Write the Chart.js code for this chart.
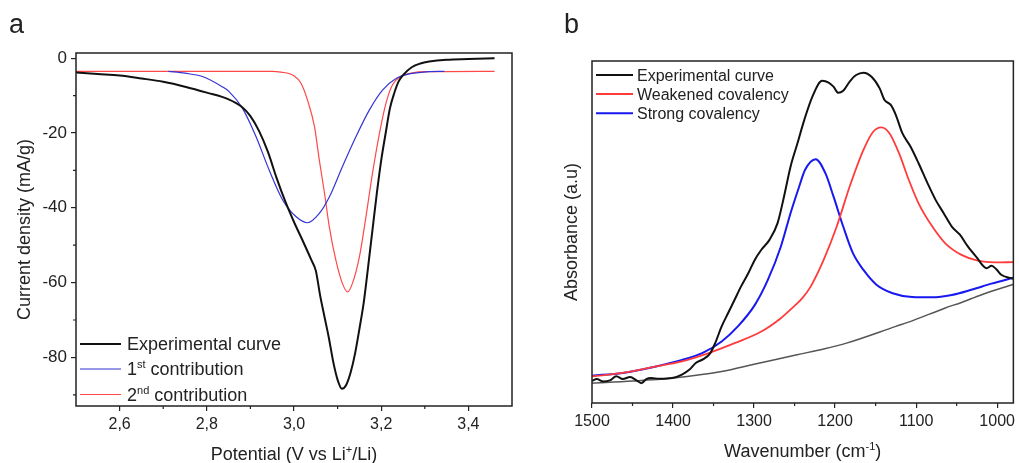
<!DOCTYPE html>
<html>
<head>
<meta charset="utf-8">
<script src="https://cdn.jsdelivr.net/npm/chart.js@4.4.1/dist/chart.umd.min.js"></script>
<style>
  html, body { margin: 0; padding: 0; background: #fff; }
  #wrap { position: relative; width: 1019px; height: 463px; overflow: hidden; }
  canvas { position: absolute; top: 0; }
  #ca { left: 0; }
  #cb { left: 540px; }
</style>
</head>
<body>
<div id="wrap">
  <canvas id="ca" width="540" height="463"></canvas>
  <canvas id="cb" width="479" height="463"></canvas>
</div>
<script>
// ---- panel a : potential vs current density ----
const expA_x = [2.50, 2.55, 2.60, 2.65, 2.70, 2.75, 2.80, 2.85, 2.88, 2.90, 2.92, 2.94, 2.96, 2.98, 3.00, 3.02, 3.04, 3.05, 3.06, 3.07, 3.08, 3.09, 3.10, 3.11, 3.12, 3.13, 3.14, 3.15, 3.16, 3.17, 3.18, 3.19, 3.20, 3.21, 3.22, 3.23, 3.24, 3.25, 3.27, 3.29, 3.31, 3.35, 3.40, 3.46];
const expA_y = [-3.8, -4.2, -4.6, -5.4, -6.3, -7.6, -9.2, -11.0, -13.0, -15.5, -19.5, -25.0, -32.0, -38.3, -43.8, -48.8, -54.0, -56.8, -63.5, -69.2, -74.8, -81.2, -86.0, -88.4, -87.3, -84.0, -79.0, -72.4, -65.3, -55.8, -45.9, -36.1, -27.3, -20.2, -13.4, -9.3, -6.2, -4.5, -2.4, -1.4, -0.9, -0.4, -0.2, 0.0];

const c1A_x = [2.712, 2.75, 2.79, 2.835, 2.85, 2.882, 2.913, 2.943, 2.974, 3.005, 3.031, 3.058, 3.081, 3.111, 3.142, 3.173, 3.203, 3.234, 3.264, 3.31, 3.345];
const c1A_y = [-3.5, -4.0, -4.9, -7.6, -8.8, -13.4, -21.0, -29.9, -37.9, -42.4, -44.0, -41.5, -37.1, -29.0, -21.0, -13.8, -8.5, -5.4, -4.2, -3.6, -3.5];

const c2A_x = [2.50, 2.95, 2.97, 3.00, 3.016, 3.031, 3.047, 3.058, 3.070, 3.081, 3.096, 3.111, 3.123, 3.134, 3.150, 3.165, 3.180, 3.196, 3.211, 3.226, 3.245, 3.272, 3.31, 3.46];
const c2A_y = [-3.5, -3.5, -3.7, -4.7, -6.7, -11.2, -18.3, -27.2, -36.1, -45.1, -54.0, -60.2, -62.5, -60.2, -53.1, -42.4, -30.8, -20.1, -12.0, -7.1, -4.9, -3.9, -3.6, -3.5];

const xTicksA = [2.6, 2.8, 3.0, 3.2, 3.4];
const xTickLabelsA = ['2,6', '2,8', '3,0', '3,2', '3,4'];
const xMinorA = [2.7, 2.9, 3.1, 3.3];
const yTicksA = [0, -20, -40, -60, -80];
const yMinorA = [-10, -30, -50, -70, -90];

// ---- panel b : FTIR absorbance ----
const expB_x = [1500, 1494, 1486, 1478, 1470, 1462, 1453, 1445, 1439, 1433, 1427, 1417, 1401, 1389, 1380, 1372, 1362, 1354, 1348, 1340, 1332, 1324, 1316, 1307, 1299, 1291, 1281, 1271, 1263, 1255, 1247, 1238, 1228, 1216, 1208, 1202, 1196, 1190, 1182, 1174, 1165, 1155, 1145, 1139, 1131, 1125, 1117, 1107, 1097, 1086, 1076, 1066, 1056, 1046, 1036, 1026, 1013, 1007, 1001, 995, 983, 980];
const expB_y = [6.5, 7.0, 6.3, 6.6, 7.8, 7.0, 7.6, 6.6, 5.8, 7.0, 7.3, 7.1, 7.3, 8.3, 9.7, 11.7, 12.9, 14.6, 17.5, 22.4, 26.3, 30.2, 34.1, 38.0, 41.9, 44.8, 47.7, 52.6, 60.4, 69.1, 75.5, 82.8, 89.6, 94.2, 93.7, 92.5, 90.7, 91.3, 94.0, 95.9, 96.6, 95.4, 92.0, 88.6, 87.1, 84.2, 78.9, 75.0, 70.1, 64.3, 59.4, 55.5, 51.6, 49.2, 45.7, 42.8, 39.4, 40.1, 39.1, 37.5, 36.5, 36.3];

const weakB_x = [1500, 1462, 1421, 1389, 1356, 1324, 1291, 1267, 1251, 1241, 1230, 1214, 1198, 1182, 1165, 1153, 1143, 1133, 1121, 1109, 1097, 1080, 1064, 1044, 1024, 1003, 980];
const weakB_y = [7.8, 8.8, 10.7, 12.2, 14.6, 17.5, 20.9, 24.8, 28.2, 30.5, 34.1, 41.9, 51.6, 63.3, 74.0, 79.3, 80.6, 78.9, 73.0, 65.2, 58.4, 51.6, 46.7, 43.3, 41.6, 41.1, 41.2];

const strongB_x = [1500, 1462, 1421, 1389, 1364, 1340, 1320, 1299, 1283, 1267, 1255, 1245, 1237, 1224, 1212, 1202, 1190, 1178, 1165, 1149, 1129, 1105, 1080, 1056, 1032, 1007, 980];
const strongB_y = [8.0, 8.8, 10.7, 12.6, 14.6, 18.0, 22.4, 28.7, 36.0, 45.7, 55.5, 62.8, 68.2, 71.3, 67.2, 60.4, 51.6, 43.8, 38.9, 34.6, 32.1, 31.0, 30.9, 31.6, 33.1, 34.9, 36.6];

const baseB_x = [1500, 1450, 1400, 1340, 1300, 1247, 1214, 1186, 1125, 1105, 1064, 1044, 1020, 980];
const baseB_y = [5.8, 6.4, 7.3, 9.2, 11.3, 14.1, 15.8, 17.5, 22.4, 24.0, 27.8, 29.4, 31.6, 34.7];

const xTicksB = [1500, 1400, 1300, 1200, 1100, 1000];
const xMinorB = [1450, 1350, 1250, 1150, 1050];

const FONT = '"Liberation Sans", Arial, Helvetica, sans-serif';
Chart.defaults.font.family = FONT;
Chart.defaults.color = '#222';

function pts(xs, ys) {
  return xs.map((x, i) => ({ x: x, y: ys[i] }));
}

// text with superscript pieces: parts = [[text, isSup], ...]
function drawRich(ctx, parts, x, y, size, align) {
  const supSize = Math.round(size * 0.62);
  let total = 0;
  parts.forEach(([t, s]) => {
    ctx.font = (s ? supSize : size) + 'px ' + FONT;
    total += ctx.measureText(t).width;
  });
  let cx = align === 'center' ? x - total / 2 : x;
  ctx.textAlign = 'left';
  ctx.textBaseline = 'alphabetic';
  parts.forEach(([t, s]) => {
    ctx.font = (s ? supSize : size) + 'px ' + FONT;
    ctx.fillText(t, cx, s ? y - size * 0.40 : y);
    cx += ctx.measureText(t).width;
  });
}

// frame, minor ticks, legend, x title and panel letter
function decoPlugin(cfg) {
  return {
    id: 'deco',
    afterDraw(chart) {
      const ctx = chart.ctx;
      const a = chart.chartArea;
      const xs = chart.scales.x, ys = chart.scales.y;
      ctx.save();
      ctx.strokeStyle = '#222';
      ctx.lineWidth = 1.5;
      ctx.strokeRect(a.left, a.top, a.right - a.left, a.bottom - a.top);

      ctx.lineWidth = 1.2;
      ctx.beginPath();
      cfg.xMinor.forEach(v => {
        const p = xs.getPixelForValue(v);
        ctx.moveTo(p, a.bottom);
        ctx.lineTo(p, a.bottom + 3);
      });
      (cfg.yMinor || []).forEach(v => {
        const p = ys.getPixelForValue(v);
        ctx.moveTo(a.left, p);
        ctx.lineTo(a.left - 3, p);
      });
      ctx.stroke();

      // legend (only the first entries, the grey baseline has none)
      const L = cfg.legend;
      L.labels.forEach((parts, i) => {
        const ds = chart.data.datasets[i];
        const ry = (L.fromBottom ? a.bottom - L.rows[i] : a.top + L.rows[i]);
        ctx.strokeStyle = ds.borderColor;
        ctx.lineWidth = ds.borderWidth;
        ctx.beginPath();
        ctx.moveTo(a.left + L.x0, ry);
        ctx.lineTo(a.left + L.x1, ry);
        ctx.stroke();
        ctx.fillStyle = '#222';
        drawRich(ctx, parts, a.left + L.tx, ry + L.size * 0.36, L.size, 'left');
      });

      // x axis title
      ctx.fillStyle = '#222';
      drawRich(ctx, cfg.xTitle, (a.left + a.right) / 2, cfg.xTitleY, 18, 'center');

      // panel letter
      ctx.font = '27px ' + FONT;
      ctx.textAlign = 'left';
      ctx.textBaseline = 'alphabetic';
      ctx.fillText(cfg.letter, cfg.letterX, 33);
      ctx.restore();
    }
  };
}

const tickGrid = { drawOnChartArea: false, tickLength: 5, color: '#222', lineWidth: 1.2 };

new Chart(document.getElementById('ca'), {
  type: 'line',
  data: {
    datasets: [
      { data: pts(expA_x, expA_y), borderColor: '#111', borderWidth: 2 },
      { data: pts(c1A_x, c1A_y), borderColor: '#3434d4', borderWidth: 1.2 },
      { data: pts(c2A_x, c2A_y), borderColor: '#ff4848', borderWidth: 1.2 }
    ]
  },
  options: {
    responsive: false,
    animation: false,
    devicePixelRatio: 1,
    layout: { padding: { top: 53, right: 28, left: 0, bottom: 0 } },
    elements: { point: { radius: 0 }, line: { cubicInterpolationMode: 'monotone' } },
    plugins: { legend: { display: false }, tooltip: { enabled: false } },
    scales: {
      x: {
        type: 'linear', min: 2.5, max: 3.5,
        afterBuildTicks: s => { s.ticks = xTicksA.map(v => ({ value: v })); },
        afterFit: s => { s.height = 57; },
        ticks: { callback: (v, i) => xTickLabelsA[i], font: { size: 16 }, padding: 4, maxRotation: 0, autoSkip: false },
        grid: tickGrid,
        border: { display: false }
      },
      y: {
        type: 'linear', min: -93, max: 1.4,
        afterBuildTicks: s => { s.ticks = yTicksA.map(v => ({ value: v })); },
        afterFit: s => { s.width = 76; },
        ticks: { callback: v => String(v), font: { size: 17 }, padding: 4, autoSkip: false },
        grid: tickGrid,
        border: { display: false },
        title: { display: true, text: 'Current density (mA/g)', font: { size: 18 }, padding: { top: 14, bottom: 0 } }
      }
    }
  },
  plugins: [decoPlugin({
    xMinor: xMinorA, yMinor: yMinorA,
    xTitle: [['Potential (V vs Li', 0], ['+', 1], ['/Li)', 0]], xTitleY: 460,
    letter: 'a', letterX: 9,
    legend: {
      fromBottom: true, rows: [62, 37, 11.5], x0: 4, x1: 45, tx: 51, size: 18,
      labels: [
        [['Experimental curve', 0]],
        [['1', 0], ['st', 1], [' contribution', 0]],
        [['2', 0], ['nd', 1], [' contribution', 0]]
      ]
    }
  })]
});

new Chart(document.getElementById('cb'), {
  type: 'line',
  data: {
    datasets: [
      { data: pts(expB_x, expB_y), borderColor: '#111', borderWidth: 2 },
      { data: pts(weakB_x, weakB_y), borderColor: '#ff3c3c', borderWidth: 1.8 },
      { data: pts(strongB_x, strongB_y), borderColor: '#1818f0', borderWidth: 2 },
      { data: pts(baseB_x, baseB_y), borderColor: '#555', borderWidth: 1.5 }
    ]
  },
  options: {
    responsive: false,
    animation: false,
    devicePixelRatio: 1,
    layout: { padding: { top: 61, right: 1, left: 0, bottom: 0 } },
    elements: { point: { radius: 0 }, line: { cubicInterpolationMode: 'monotone' } },
    plugins: { legend: { display: false }, tooltip: { enabled: false } },
    scales: {
      x: {
        type: 'linear', min: 980, max: 1500, reverse: true,
        afterBuildTicks: s => { s.ticks = xTicksB.map(v => ({ value: v })); },
        afterFit: s => { s.height = 60; },
        ticks: { callback: v => String(v), font: { size: 16 }, padding: 4, maxRotation: 0, autoSkip: false },
        grid: tickGrid,
        border: { display: false }
      },
      y: {
        type: 'linear', min: 0, max: 100,
        afterFit: s => { s.width = 52; },
        ticks: { display: false },
        grid: { display: false },
        border: { display: false },
        title: { display: true, text: 'Absorbance (a.u)', font: { size: 18 }, padding: { top: 21, bottom: 0 } }
      }
    }
  },
  plugins: [decoPlugin({
    xMinor: xMinorB,
    xTitle: [['Wavenumber (cm', 0], ['-1', 1], [')', 0]], xTitleY: 457,
    letter: 'b', letterX: 24,
    legend: {
      fromBottom: false, rows: [14, 33, 52.3], x0: 4, x1: 41, tx: 45, size: 16,
      labels: [
        [['Experimental curve', 0]],
        [['Weakened covalency', 0]],
        [['Strong covalency', 0]]
      ]
    }
  })]
});
</script>
</body>
</html>
